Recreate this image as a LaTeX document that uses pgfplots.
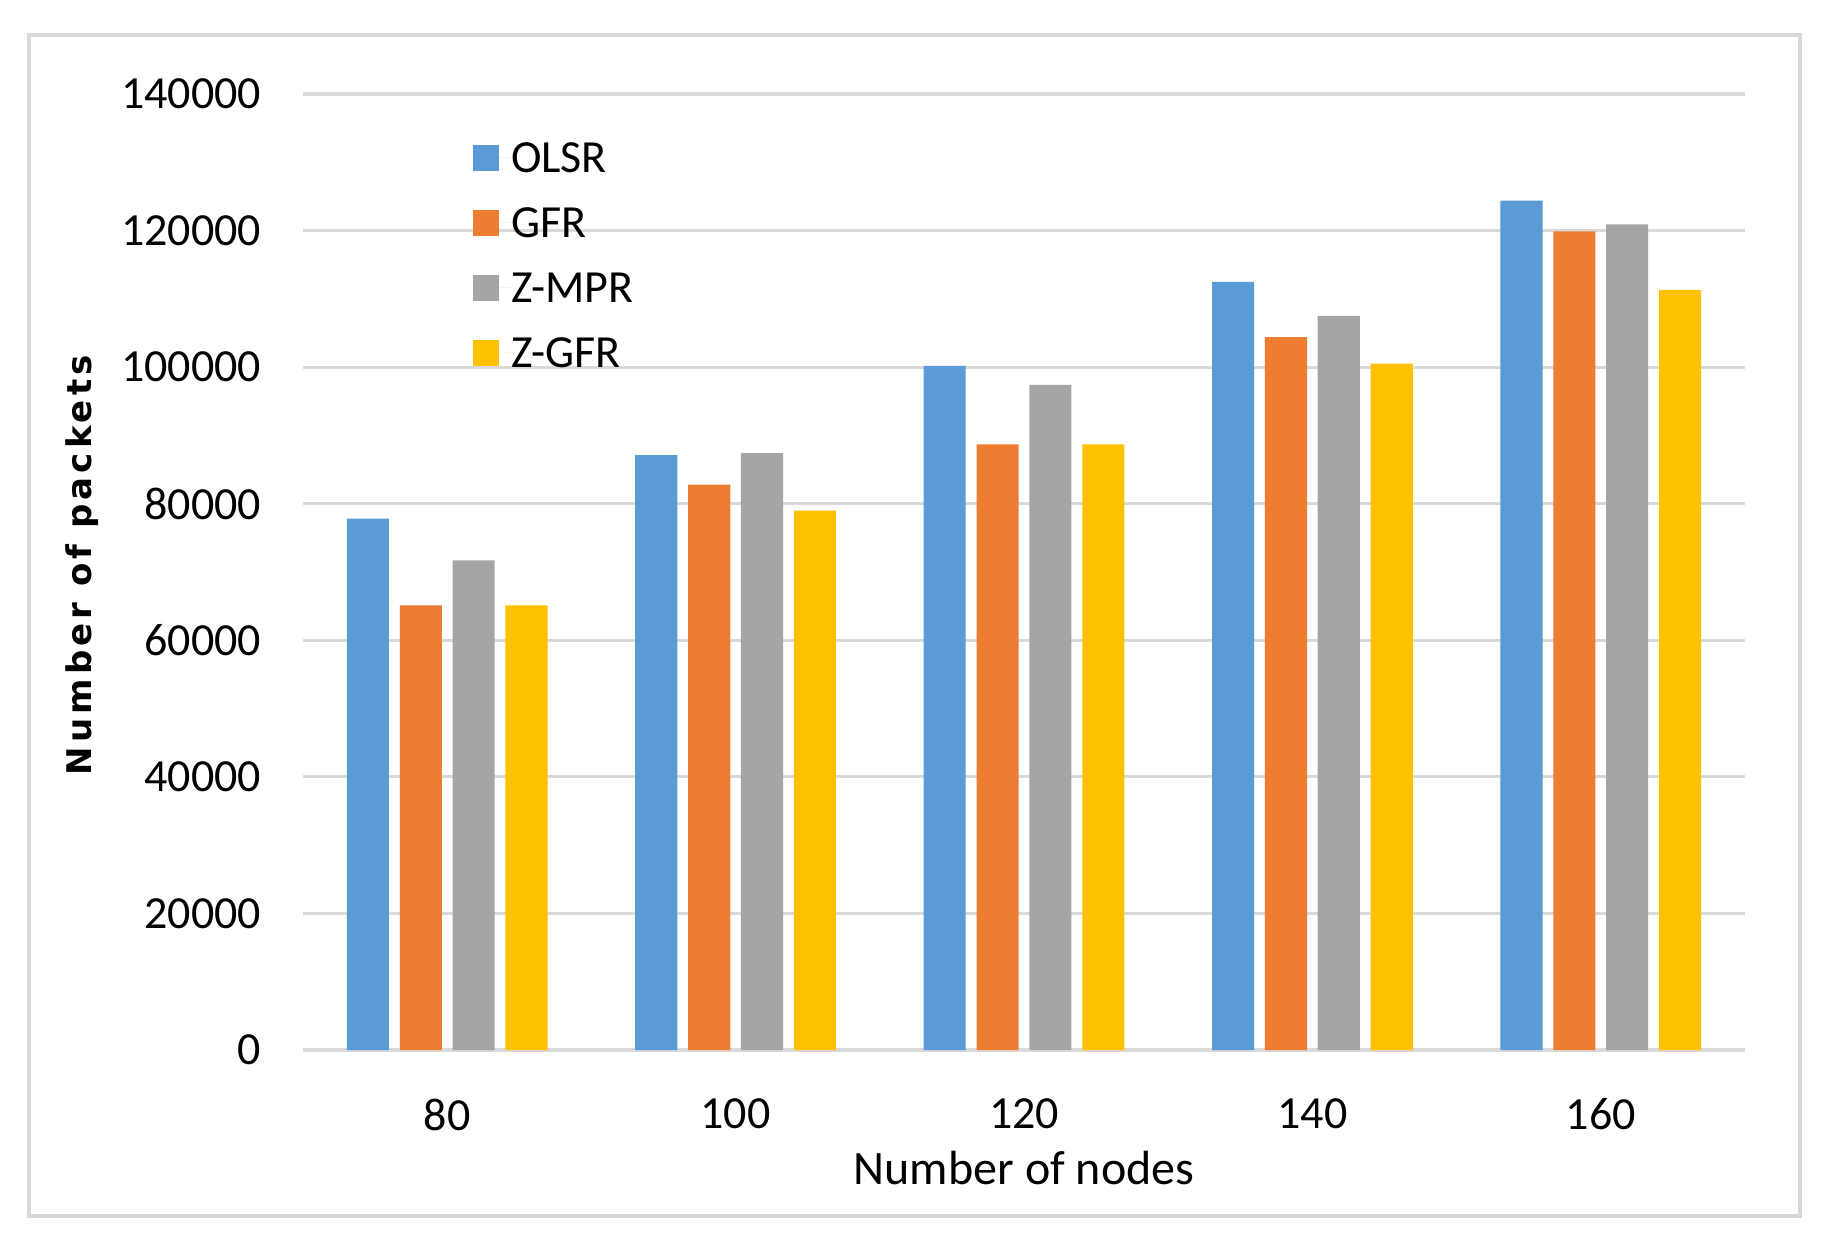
\documentclass[border=0pt]{standalone}
\usepackage{fontspec}
\setmainfont{Carlito}
\newfontfamily\dejavu[LetterSpace=12]{DejaVu Sans}
\usepackage{pgfplots}
\pgfplotsset{compat=1.18}

\definecolor{olsr}{HTML}{5B9BD5}
\definecolor{gfr}{HTML}{ED7D31}
\definecolor{zmpr}{HTML}{A5A5A5}
\definecolor{zgfr}{HTML}{FFC000}
\definecolor{gridgray}{HTML}{D9D9D9}

\begin{document}
\begin{tikzpicture}
% page and outer frame (1 px of the reference = 0.25pt)
\path[fill=white] (-75.75pt,-45.75pt) rectangle (381.75pt,262.5pt);
\draw[gridgray, line width=1pt] (-68.5pt,-41.5pt) rectangle (374.25pt,253.75pt);
\begin{axis}[
  scale only axis,
  width=360.5pt, height=239pt,
  xmin=-0.5, xmax=4.5,
  ymin=0, ymax=140000,
  xtick={0,1,2,3,4},
  xticklabels={80,100,120,140,160},
  ytick={0,20000,40000,60000,80000,100000,120000,140000},
  scaled y ticks=false,
  /pgf/number format/fixed,
  /pgf/number format/1000 sep={},
  /pgf/number format/assume math mode=true,
  major tick length=0pt,
  axis x line=bottom,
  axis y line=left,
  x axis line style={draw=gridgray, line width=1.2pt, -},
  y axis line style={draw=none},
  ymajorgrids,
  grid style={draw=gridgray, line width=0.8pt},
  tick label style={font=\fontsize{11.5}{13}\selectfont},
  yticklabel style={anchor=east, inner sep=0pt, xshift=-10.25pt},
  xticklabel style={anchor=north, inner sep=0pt, yshift=-12pt},
  xlabel={Number of nodes},
  xlabel style={font=\fontsize{12}{14}\selectfont, at={(axis description cs:0.5,0)}, anchor=north, inner sep=0pt, yshift=-25pt},
  ylabel={\dejavu\bfseries Number of packets},
  ylabel style={font=\fontsize{8.5}{10}\selectfont, at={(axis description cs:-0.1533,0.507)}, anchor=center, inner sep=0pt},
  legend style={draw=none, fill=none, inner sep=0pt, outer sep=0pt,
    at={(axis description cs:0.1179,0.9487)}, anchor=north west,
    row sep=8.85pt, column sep=0pt,
    font=\fontsize{11.5}{13}\selectfont,
    nodes={inner sep=0pt, text height=7.4pt, text depth=0pt}},
  legend cell align=left,
  legend image code/.code={
    \fill[#1] (0pt,-3.25pt) rectangle (6.5pt,3.25pt);
    \path (0pt,0pt) -- (9.5pt,0pt);
  },
]
% OLSR
\addplot[ybar, bar width=0.146, bar shift=-0.275, fill=olsr, draw=none]
  coordinates {(0,77800) (1,87100) (2,100200) (3,112500) (4,124400)};
% GFR
\addplot[ybar, bar width=0.146, bar shift=-0.0915, fill=gfr, draw=none]
  coordinates {(0,65100) (1,82800) (2,88700) (3,104400) (4,119900)};
% Z-MPR
\addplot[ybar, bar width=0.146, bar shift=0.0915, fill=zmpr, draw=none]
  coordinates {(0,71700) (1,87400) (2,97400) (3,107500) (4,120900)};
% Z-GFR
\addplot[ybar, bar width=0.146, bar shift=0.275, fill=zgfr, draw=none]
  coordinates {(0,65100) (1,79000) (2,88700) (3,100500) (4,111300)};
\legend{OLSR, GFR, Z-MPR, Z-GFR}
\end{axis}
\end{tikzpicture}
\end{document}
